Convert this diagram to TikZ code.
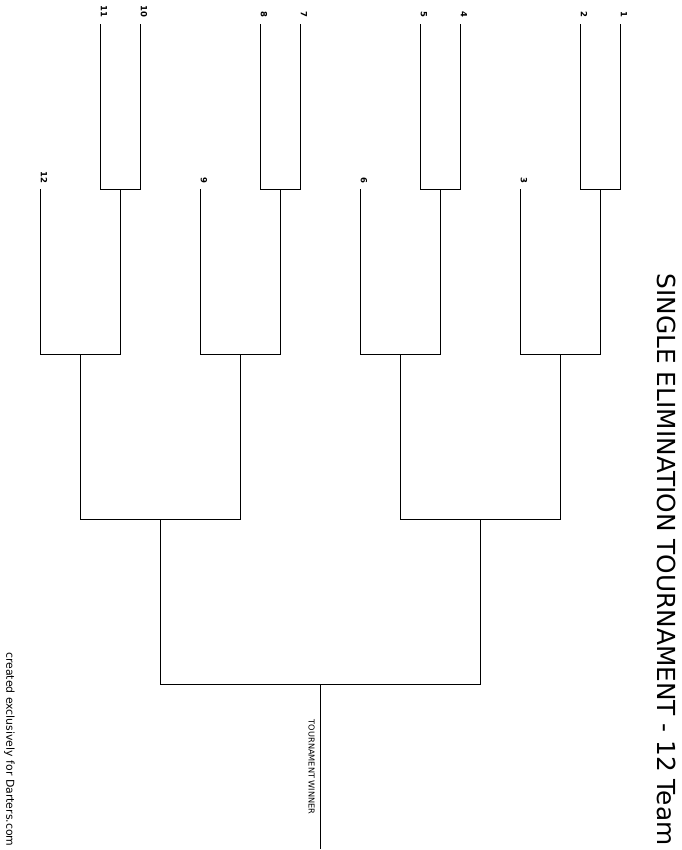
\documentclass[tikz,border=0pt]{standalone}
\usepackage{fontspec}
\setmainfont{DejaVu Sans}
\begin{document}
\begin{tikzpicture}[x=1pt, y=-1pt,
                    line width=1pt,
                    draw=black]
    \tikzstyle{seed}=[rotate=-90,anchor=east,inner sep=0pt,font=\fontsize{8.5}{8.5}\selectfont\bfseries]
    \tikzstyle{caption}=[rotate=-90,anchor=east,inner sep=0pt];

    \useasboundingbox (0,0) rectangle (681,850);

    \begin{scope}[shift={(0.5,0.5)}]
    % seed lines, first round
    \coordinate (t1) at (620,24);
    \coordinate (t2) at (580,24);
    \coordinate (t4) at (460,24);
    \coordinate (t5) at (420,24);
    \coordinate (t7) at (300,24);
    \coordinate (t8) at (260,24);
    \coordinate (t10) at (140,24);
    \coordinate (t11) at (100,24);
    % byes
    \coordinate (t3) at (520,189);
    \coordinate (t6) at (360,189);
    \coordinate (t9) at (200,189);
    \coordinate (t12) at (40,189);

    % joins
    \coordinate (j1) at (600,189);
    \coordinate (j2) at (440,189);
    \coordinate (j3) at (280,189);
    \coordinate (j4) at (120,189);
    \coordinate (k1) at (560,354);
    \coordinate (k2) at (400,354);
    \coordinate (k3) at (240,354);
    \coordinate (k4) at (80,354);
    \coordinate (m1) at (480,519);
    \coordinate (m2) at (160,519);
    \coordinate (f) at (320,684);
    \coordinate (w) at (320,848);
    \end{scope}

    \node[seed] (s1) at (624,17.5) {1};
    \node[seed] (s2) at (584,17.5) {2};
    \node[seed] (s4) at (464,17.5) {4};
    \node[seed] (s5) at (424,17.5) {5};
    \node[seed] (s7) at (304,17.5) {7};
    \node[seed] (s8) at (264,17.5) {8};
    \node[seed] (s10) at (144,17.5) {10};
    \node[seed] (s11) at (104,17.5) {11};
    \node[seed] (s3) at (524,183.5) {3};
    \node[seed] (s6) at (364,183.5) {6};
    \node[seed] (s9) at (204,183.5) {9};
    \node[seed] (s12) at (44,183.5) {12};

    \draw (t1) |- (j1) -| (t2);
    \draw (t4) |- (j2) -| (t5);
    \draw (t7) |- (j3) -| (t8);
    \draw (t10) |- (j4) -| (t11);

    \draw (j1) |- (k1) -| (t3);
    \draw (j2) |- (k2) -| (t6);
    \draw (j3) |- (k3) -| (t9);
    \draw (j4) |- (k4) -| (t12);

    \draw (k1) |- (m1) -| (k2);
    \draw (k3) |- (m2) -| (k4);

    \draw (m1) |- (f) -| (m2);
    \draw (f) -- (w);

    \node[caption,font=\fontsize{8.2}{8.2}\selectfont] (winner) at (311.5,815) {TOURNAMENT WINNER};
    \node[caption,font=\fontsize{24.8}{24.8}\selectfont] (title) at (666.5,846) {SINGLE ELIMINATION TOURNAMENT - 12 Team};
    \node[caption,font=\fontsize{10.9}{10.9}\selectfont] (credit) at (9.5,847) {created exclusively for Darters.com};

\end{tikzpicture}
\end{document}
